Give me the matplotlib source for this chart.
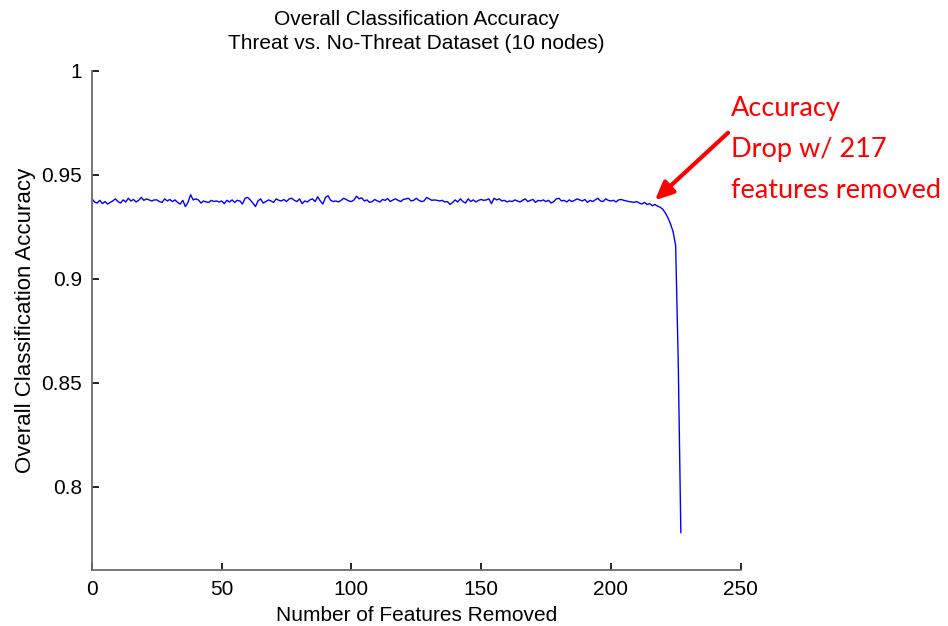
import matplotlib
matplotlib.use("Agg")
import matplotlib.pyplot as plt
import numpy as np

# ---- data ----
features_removed = list(range(0, 228))
accuracy = [
    0.9385, 0.9370, 0.9365, 0.9378, 0.9362, 0.9372, 0.9360, 0.9368, 0.9375, 0.9385,
    0.9372, 0.9365, 0.9380, 0.9370, 0.9388, 0.9375, 0.9382, 0.9370, 0.9378, 0.9392,
    0.9378, 0.9385, 0.9380, 0.9375, 0.9380, 0.9380, 0.9372, 0.9368, 0.9385, 0.9375,
    0.9382, 0.9372, 0.9380, 0.9368, 0.9360, 0.9378, 0.9348, 0.9368, 0.9405, 0.9380,
    0.9385, 0.9380, 0.9365, 0.9375, 0.9370, 0.9368, 0.9378, 0.9372, 0.9375, 0.9370,
    0.9375, 0.9362, 0.9378, 0.9370, 0.9380, 0.9368, 0.9378, 0.9375, 0.9360, 0.9388,
    0.9392, 0.9380, 0.9365, 0.9348, 0.9375, 0.9385, 0.9365, 0.9372, 0.9380, 0.9375,
    0.9368, 0.9385, 0.9378, 0.9375, 0.9382, 0.9372, 0.9385, 0.9388, 0.9378, 0.9372,
    0.9385, 0.9362, 0.9375, 0.9370, 0.9380, 0.9385, 0.9372, 0.9395, 0.9375, 0.9360,
    0.9392, 0.9400, 0.9378, 0.9372, 0.9375, 0.9370, 0.9378, 0.9388, 0.9382, 0.9375,
    0.9372, 0.9380, 0.9398, 0.9385, 0.9390, 0.9375, 0.9380, 0.9368, 0.9372, 0.9382,
    0.9375, 0.9370, 0.9382, 0.9378, 0.9386, 0.9372, 0.9380, 0.9385, 0.9378, 0.9372,
    0.9382, 0.9385, 0.9388, 0.9375, 0.9378, 0.9388, 0.9378, 0.9372, 0.9375, 0.9392,
    0.9385, 0.9378, 0.9380, 0.9378, 0.9375, 0.9378, 0.9370, 0.9372, 0.9358, 0.9368,
    0.9380, 0.9370, 0.9385, 0.9372, 0.9365, 0.9385, 0.9372, 0.9380, 0.9370, 0.9378,
    0.9382, 0.9378, 0.9380, 0.9385, 0.9362, 0.9388, 0.9380, 0.9385, 0.9375, 0.9378,
    0.9370, 0.9375, 0.9372, 0.9380, 0.9375, 0.9370, 0.9378, 0.9385, 0.9372, 0.9378,
    0.9382, 0.9368, 0.9378, 0.9375, 0.9380, 0.9372, 0.9378, 0.9365, 0.9372, 0.9385,
    0.9388, 0.9375, 0.9378, 0.9370, 0.9380, 0.9372, 0.9378, 0.9385, 0.9380, 0.9375,
    0.9382, 0.9368, 0.9378, 0.9372, 0.9380, 0.9388, 0.9375, 0.9372, 0.9385, 0.9378,
    0.9375, 0.9378, 0.9370, 0.9380, 0.9382, 0.9378, 0.9375, 0.9372, 0.9370, 0.9368,
    0.9372, 0.9365, 0.9360, 0.9368, 0.9358, 0.9362, 0.9352, 0.9358, 0.9350, 0.9345,
    0.9335, 0.9318, 0.9295, 0.9265, 0.9228, 0.9160, 0.8600, 0.7780,
]
x_ticks = [0, 50, 100, 150, 200, 250]
y_ticks = [0.8, 0.85, 0.9, 0.95, 1.0]
y_tick_labels = ["0.8", "0.85", "0.9", "0.95", "1"]
drop_point = 217
annotation_lines = ["Accuracy", "Drop w/ 217", "features removed"]

plt.rcParams['font.family'] = ['Liberation Sans', 'DejaVu Sans']

W, H = 948, 626
fig = plt.figure(figsize=(W / 100, H / 100), dpi=100)
ax = fig.add_axes([92 / W, (H - 570) / H, (740.5 - 92) / W, (570 - 71) / H])

ax.plot(features_removed, accuracy, color=(0, 0, 1), linewidth=1.0)

ax.set_xlim(0, 250)
ax.set_ylim(0.76, 1.0)
ax.set_xticks(x_ticks)
ax.set_xticklabels([str(t) for t in x_ticks])
ax.set_yticks(y_ticks)
ax.set_yticklabels(y_tick_labels)

for s in ['top', 'right']:
    ax.spines[s].set_visible(False)
for s in ['left', 'bottom']:
    ax.spines[s].set_color('#6b6b6b')
    ax.spines[s].set_linewidth(1.3)

ax.tick_params(direction='in', length=5, width=1.2, color='black',
               labelsize=15, pad=7)

ax.set_xlabel("Number of Features Removed", fontsize=15, labelpad=5)
ax.set_ylabel("Overall Classification Accuracy", fontsize=16, labelpad=4)
ax.set_title("Overall Classification Accuracy\nThreat vs. No-Threat Dataset (10 nodes)",
             fontsize=15, pad=16, linespacing=1.3)

# annotation arrow
ax.annotate("", xy=(drop_point, 0.9378), xytext=(245.2, 0.9703),
            xycoords='data', textcoords='data', annotation_clip=False,
            arrowprops=dict(arrowstyle='-|>,head_length=1.1,head_width=0.5',
                            color=(1, 0, 0), lw=3, shrinkA=0, shrinkB=0))

for line, base in zip(annotation_lines, [116, 157, 198]):
    fig.text(731 / W, (H - base) / H, line,
             color=(1, 0, 0), fontsize=19.5, family=['Lato', 'DejaVu Sans'],
             ha='left', va='baseline')

fig.savefig("out.png", dpi=100)
